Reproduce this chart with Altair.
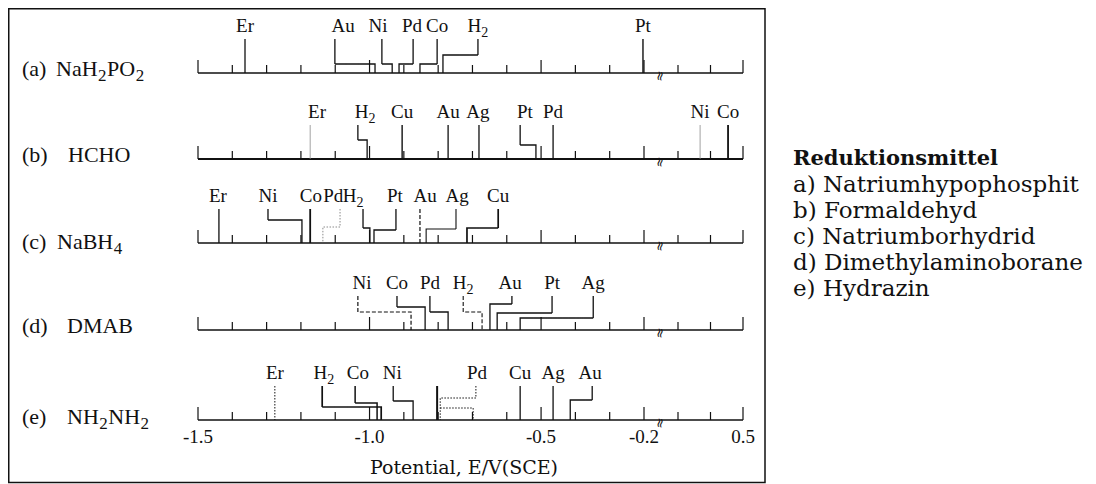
import altair as alt
import pandas as pd

W, H = 1080, 476

# ---- rows (reducing agents) ----
row_keys = ["a", "b", "c", "d", "e"]
row_tags = ["(a)", "(b)", "(c)", "(d)", "(e)"]
row_formulas = ["NaH₂PO₂", "HCHO", "NaBH₄", "DMAB", "NH₂NH₂"]

# ---- axis ticks (potential, V vs SCE) ----
tick_vals = [-1.5, -1.4, -1.3, -1.2, -1.1, -1.0, -0.9, -0.8, -0.7, -0.6, -0.5, -0.4, -0.3, -0.2, 0.3, 0.4, 0.5]
major_vals = [-1.5, -1.0, -0.5, -0.2, 0.5]
tick_label_vals = [-1.5, -1.0, -0.5, -0.2, 0.5]
tick_label_text = ["-1.5", "-1.0", "-0.5", "-0.2", "0.5"]

# ---- element markers ----
el_row = ["a"] * 7 + ["b"] * 9 + ["c"] * 9 + ["d"] * 7 + ["e"] * 9
el_name = ["Er", "Au", "Ni", "Pd", "Co", "H₂", "Pt",
           "Er", "H₂", "Cu", "Au", "Ag", "Pt", "Pd", "Ni", "Co",
           "Er", "Ni", "Co", "Pd", "H₂", "Pt", "Au", "Ag", "Cu",
           "Ni", "Co", "Pd", "H₂", "Au", "Pt", "Ag",
           "Er", "H₂", "Co", "Ni", "", "Pd", "Cu", "Ag", "Au"]
# potential where the marker meets the axis
el_E = [-1.363, -0.984, -0.934, -0.914, -0.853, -0.786, -0.203,
        -1.173, -1.007, -0.905, -0.771, -0.681, -0.515, -0.465, 0.368, 0.454,
        -1.439, -1.197, -1.173, -1.136, -0.999, -0.987, -0.853, -0.835, -0.716,
        -0.879, -0.838, -0.771, -0.672, -0.649, -0.628, -0.561,
        -1.276, -0.966, -0.978, -0.873, -0.803, -0.794, -0.561, -0.465, -0.415]
# potential where the label is centred
el_label = [-1.363, -1.077, -0.975, -0.876, -0.803, -0.684, -0.203,
            -1.153, -1.013, -0.905, -0.771, -0.684, -0.547, -0.465, 0.368, 0.454,
            -1.442, -1.296, -1.171, -1.106, -1.048, -0.926, -0.838, -0.745, -0.625,
            -1.022, -0.920, -0.824, -0.727, -0.590, -0.468, -0.348,
            -1.276, -1.133, -1.034, -0.934, None, -0.687, -0.561, -0.465, -0.357]
# potential of the upper end of a bent marker (None = straight)
el_top = [None, -1.101, -0.964, -0.873, -0.803, -0.684, None,
          None, -1.034, None, None, None, -0.561, None, None, None,
          None, -1.296, None, -1.086, -1.019, -0.923, None, -0.748, -0.625,
          -1.034, -0.920, -0.824, -0.727, -0.585, -0.468, -0.348,
          None, -1.138, -1.042, -0.931, None, -0.690, None, None, -0.351]
# height of the bend above the axis
el_bend = [None, 9, 9, 9, 9, 18, None,
           None, 19, None, None, None, 14, None, None, None,
           None, 23, None, 16, 15, 13, None, 14, 15,
           18, 23, 18, 18, 26, 17, 12,
           None, 13, 17, 19, None, 22, None, None, 20]
el_style = ["solid", "solid", "solid", "solid", "solid", "solid", "solid",
            "gray", "solid", "solid", "solid", "solid", "solid", "solid", "gray", "solid",
            "solid", "solid", "solid", "dotgray", "solid", "solid", "dash", "solid", "solid",
            "dash", "solid", "solid", "dash", "solid", "solid", "solid",
            "dot", "solid", "solid", "solid", "solid", "dot", "solid", "solid", "solid"]
el_width = [1.3, 1.3, 1.3, 1.3, 1.3, 1.3, 1.4,
            0.8, 1.3, 1.4, 1.3, 1.3, 1.3, 1.3, 0.8, 1.8,
            1.3, 1.3, 1.8, 1.0, 1.3, 1.3, 1.2, 1.1, 1.7,
            1.2, 1.3, 1.3, 1.1, 1.3, 1.3, 1.3,
            1.0, 1.7, 1.5, 1.3, 2.0, 1.0, 1.3, 1.3, 1.3]
# extra dotted outline belonging to Pd in (e)
extra_row = ["e"]
extra_E = [[-0.794, -0.698, -0.698]]
extra_h = [[12, 12, 0]]

legend_title = "Reduktionsmittel"
legend_lines = ["a) Natriumhypophosphit", "b) Formaldehyd", "c) Natriumborhydrid",
                "d) Dimethylaminoborane", "e) Hydrazin"]

# ---------------- layout ----------------
AXIS_Y = dict(zip(row_keys, [65, 151, 235, 322, 412]))
AXIS_W = dict(zip(row_keys, [1.3, 2.2, 1.3, 1.3, 1.3]))
FORM_X = dict(zip(row_keys, [48, 60, 49, 59, 59]))
FORM_DY = dict(zip(row_keys, [3, 3, 6, 3, 4]))
TOP = 34
LABEL_UP = 41
SERIF = "Liberation Serif"
LAB_FS, LAB_SUB_FS = 19, 14
FORM_FS, FORM_SUB_FS = 22, 17
SUB_DY = 5
# Times-compatible advance widths (em) used to place subscripts
TW = {"N": 0.722, "a": 0.444, "H": 0.722, "P": 0.556, "O": 0.722, "B": 0.667,
      "C": 0.667, "D": 0.722, "M": 0.889, "A": 0.722, "2": 0.5, "4": 0.5}
SUBS = {"₂": "2", "₄": "4"}

xs = alt.Scale(domain=[-1.5, -0.2, 0.3, 0.5], range=[190, 636, 670, 735], nice=False, zero=False)
ys = alt.Scale(domain=[0, H], range=[0, H], nice=False, zero=False)


def pieces(s):
    out, cur = [], ""
    for ch in s:
        if ch in SUBS:
            if cur:
                out.append((cur, False))
                cur = ""
            out.append((SUBS[ch], True))
        else:
            cur += ch
    if cur:
        out.append((cur, False))
    return out


# path points
pts = []
for i in range(len(el_row)):
    ay = AXIS_Y[el_row[i]]
    if el_bend[i] is None:
        seq = [(el_E[i], ay - TOP), (el_E[i], ay)]
    else:
        seq = [(el_top[i], ay - TOP), (el_top[i], ay - el_bend[i]),
               (el_E[i], ay - el_bend[i]), (el_E[i], ay)]
    for k, (e, y) in enumerate(seq):
        pts.append(dict(id=f"m{i}", o=k, E=e, y=y, style=el_style[i], w=el_width[i]))
for j in range(len(extra_row)):
    ay = AXIS_Y[extra_row[j]]
    for k, (e, h) in enumerate(zip(extra_E[j], extra_h[j])):
        pts.append(dict(id=f"x{j}", o=k, E=e, y=ay - h, style="dot", w=1.0))
pts = pd.DataFrame(pts)

plain_lab, base_lab, sub_lab = [], [], []
for i in range(len(el_row)):
    if not el_name[i]:
        continue
    y = AXIS_Y[el_row[i]] - LABEL_UP
    p = pieces(el_name[i])
    if len(p) == 1:
        plain_lab.append(dict(E=el_label[i], y=y, t=el_name[i]))
    else:
        base_lab.append(dict(E=el_label[i], y=y, t=p[0][0]))
        sub_lab.append(dict(E=el_label[i], y=y + SUB_DY, t=p[1][0]))
# subscript labels are all "H₂": split the pair around the centre
bw = TW["H"] * LAB_FS
sw = TW["2"] * LAB_SUB_FS
LAB_DX = (bw - sw) / 2

form_base, form_sub = [], []
for r, f in zip(row_keys, row_formulas):
    x = FORM_X[r]
    by = AXIS_Y[r] + FORM_DY[r]
    for txt, is_sub in pieces(f):
        if is_sub:
            form_sub.append(dict(x=x + 0.5, y=by + SUB_DY, t=txt))
            x += sum(TW[c] for c in txt) * FORM_SUB_FS + 1
        else:
            form_base.append(dict(x=x, y=by, t=txt))
            x += sum(TW[c] for c in txt) * FORM_FS

ticks = pd.DataFrame([dict(E=v, y=AXIS_Y[r] - (13 if v in major_vals else 8), y2=AXIS_Y[r])
                      for r in row_keys for v in tick_vals])
axes = pd.DataFrame([dict(E=-1.5, E2=0.5, y=AXIS_Y[r], w=AXIS_W[r]) for r in row_keys])
rowtag = pd.DataFrame([dict(y=AXIS_Y[r] + FORM_DY[r], tag=t) for r, t in zip(row_keys, row_tags)])
brk = pd.DataFrame([dict(y=AXIS_Y[r] + 3) for r in row_keys])
tl = pd.DataFrame(dict(E=tick_label_vals, t=tick_label_text))
leg = pd.DataFrame(dict(t=legend_lines, y=[176.5 + 26 * k for k in range(len(legend_lines))]))

style_dom = ["solid", "gray", "dash", "dot", "dotgray"]
style_col = ["#111111", "#8a8a8a", "#111111", "#111111", "#8a8a8a"]
style_dash = [[1, 0], [1, 0], [4, 2], [1.5, 1.5], [1.5, 1.5]]

X = alt.X("E:Q", scale=xs, axis=None)
Y = alt.Y("y:Q", scale=ys, axis=None)

markers = alt.Chart(pts).mark_line(strokeCap="butt", strokeJoin="miter").encode(
    x=X, y=Y,
    detail="id:N",
    order="o:Q",
    color=alt.Color("style:N", scale=alt.Scale(domain=style_dom, range=style_col), legend=None),
    strokeDash=alt.StrokeDash("style:N", scale=alt.Scale(domain=style_dom, range=style_dash), legend=None),
    strokeWidth=alt.StrokeWidth("w:Q", scale=None),
)
tick_layer = alt.Chart(ticks).mark_rule(color="#111111", strokeWidth=1.2).encode(x=X, y=Y, y2="y2:Q")
axis_layer = alt.Chart(axes).mark_rule(color="#111111").encode(
    x=X, x2="E2:Q", y=Y, strokeWidth=alt.StrokeWidth("w:Q", scale=None))
brk_layer = alt.Chart(brk).mark_text(text="≈", angle=100, fontSize=13, font="DejaVu Sans",
                                     color="#111111", align="center", baseline="middle").encode(
    x=alt.value(652), y=Y)

lab_plain = alt.Chart(pd.DataFrame(plain_lab)).mark_text(
    font=SERIF, fontSize=LAB_FS, color="#111111", align="center", baseline="alphabetic").encode(
    x=X, y=Y, text="t:N")
lab_base = alt.Chart(pd.DataFrame(base_lab)).mark_text(
    font=SERIF, fontSize=LAB_FS, color="#111111", align="right", baseline="alphabetic", dx=LAB_DX).encode(
    x=X, y=Y, text="t:N")
lab_sub = alt.Chart(pd.DataFrame(sub_lab)).mark_text(
    font=SERIF, fontSize=LAB_SUB_FS, color="#111111", align="left", baseline="alphabetic", dx=LAB_DX).encode(
    x=X, y=Y, text="t:N")

tag_layer = alt.Chart(rowtag).mark_text(font=SERIF, fontSize=FORM_FS, color="#111111",
                                        align="left", baseline="alphabetic").encode(
    x=alt.value(14), y=Y, text="tag:N")
fb_layer = alt.Chart(pd.DataFrame(form_base)).mark_text(
    font=SERIF, fontSize=FORM_FS, color="#111111", align="left", baseline="alphabetic").encode(
    x=alt.X("x:Q", scale=None), y=Y, text="t:N")
fs_layer = alt.Chart(pd.DataFrame(form_sub)).mark_text(
    font=SERIF, fontSize=FORM_SUB_FS, color="#111111", align="left", baseline="alphabetic").encode(
    x=alt.X("x:Q", scale=None), y=Y, text="t:N")

tl_layer = alt.Chart(tl).mark_text(font=SERIF, fontSize=19, color="#111111",
                                   align="center", baseline="alphabetic").encode(
    x=X, y=alt.value(AXIS_Y["e"] + 23), text="t:N")
title_layer = alt.Chart(pd.DataFrame(dict(t=["Potential, E/V(SCE)"]))).mark_text(
    font="DejaVu Serif", fontSize=19, color="#111111", align="center", baseline="alphabetic").encode(
    x=alt.value(456), y=alt.value(466), text="t:N")
frame = alt.Chart(pd.DataFrame(dict(k=[0]))).mark_rect(
    fillOpacity=0, stroke="#111111", strokeWidth=1.5).encode(
    x=alt.value(0.75), x2=alt.value(757), y=alt.value(0.75), y2=alt.value(474.5))
leg_title = alt.Chart(pd.DataFrame(dict(t=[legend_title]))).mark_text(
    font="DejaVu Serif", fontSize=21, fontWeight="bold", color="#111111", align="left", baseline="middle").encode(
    x=alt.value(785), y=alt.value(150.5), text="t:N")
leg_layer = alt.Chart(leg).mark_text(font="DejaVu Serif", fontSize=23, color="#111111",
                                     align="left", baseline="middle").encode(
    x=alt.value(785), y=Y, text="t:N")

chart = alt.layer(
    frame, axis_layer, tick_layer, markers, brk_layer, lab_plain, lab_base, lab_sub,
    tag_layer, fb_layer, fs_layer, tl_layer, title_layer, leg_title, leg_layer,
).properties(
    width=W, height=H, autosize=alt.AutoSizeParams(type="none"), padding=0,
).configure_view(stroke=None)

chart.save("out.html", embed_options={"renderer": "svg", "actions": False})
